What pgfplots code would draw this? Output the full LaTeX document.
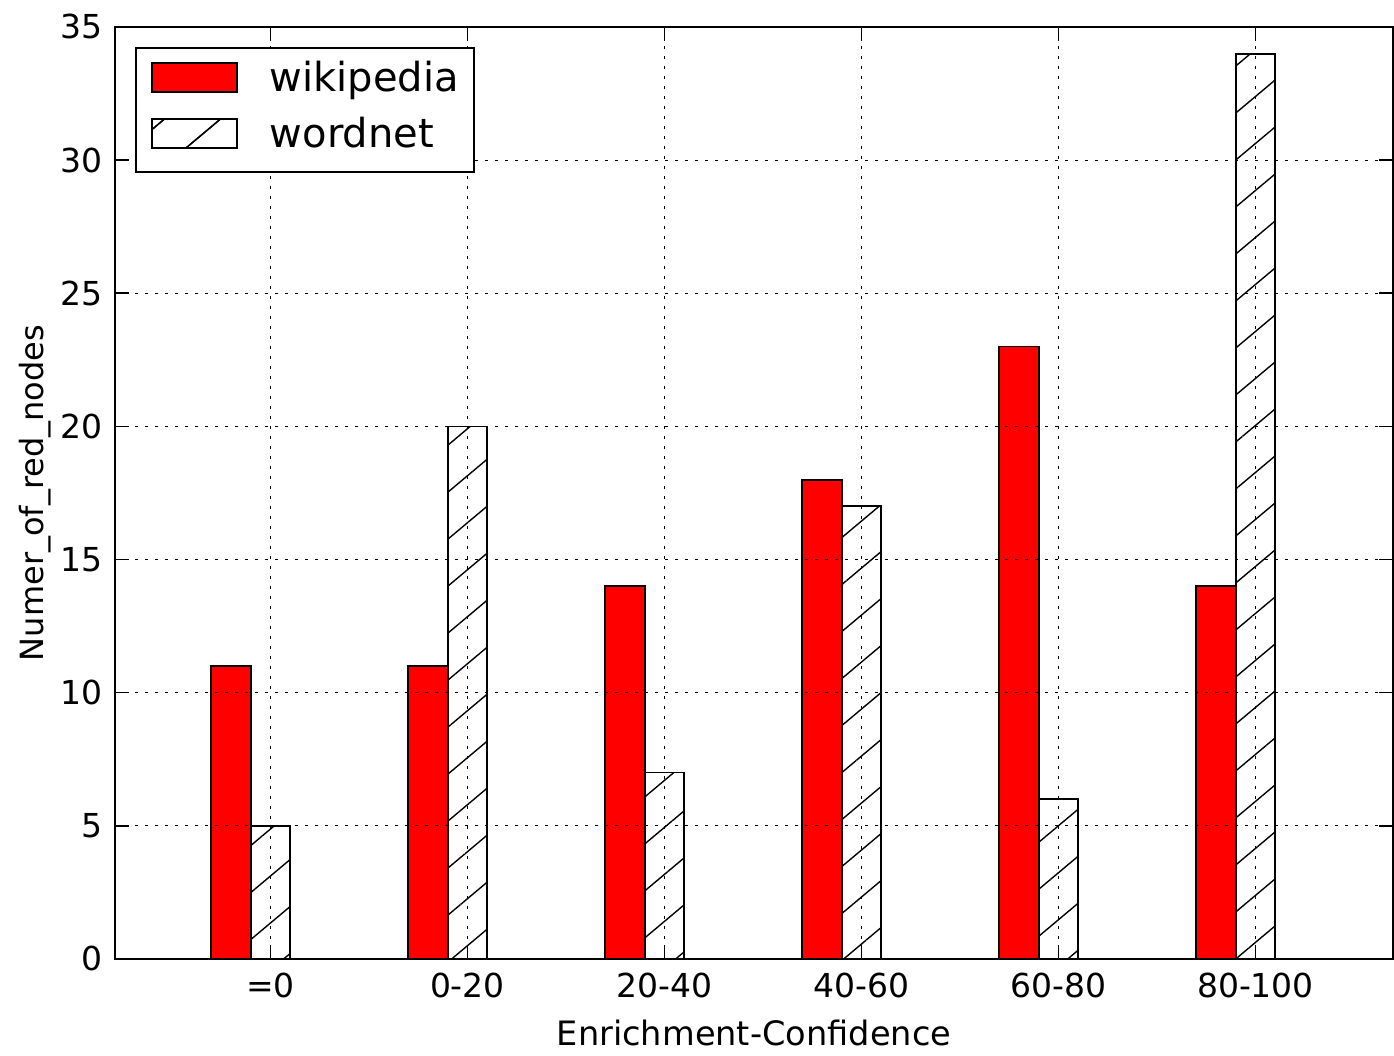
\documentclass[border=0pt]{standalone}
\usepackage{pgfplots}
\pgfplotsset{compat=1.18}
\usepackage{fontspec}
\setmainfont{DejaVu Sans}
\usetikzlibrary{patterns.meta,calc}
\begin{document}
\begin{tikzpicture}
\begin{axis}[
  scale only axis,
  width=639pt, height=466pt,
  xmin=-0.789, xmax=5.698,
  ymin=0, ymax=35,
  ytick={0,5,10,15,20,25,30,35},
  xtick={0,1,2,3,4,5},
  xticklabels={=0,0-20,20-40,40-60,60-80,80-100},
  ybar, bar width=0.2,
  axis on top,
  axis line style={black, line width=1pt},
  tick style={black, line width=0.8pt},
  tick align=inside,
  major tick length=7pt,
  xtick pos=both, ytick pos=both,
  grid=major,
  major grid style={black, line width=0.6pt, dash pattern=on 1.5pt off 3.5pt},
  /pgf/number format/assume math mode=true,
  tick label style={font=\fontsize{16.5}{20}\selectfont},
  yticklabel style={anchor=east, inner sep=0pt, xshift=-6pt},
  xticklabel style={anchor=north, inner sep=0pt, yshift=-7pt},
  every axis x label/.style={at={(axis description cs:0.5,-0.0933)}, anchor=base, inner sep=0pt, font=\fontsize{16.8}{20}\selectfont},
  every axis y label/.style={at={(axis description cs:-0.0563,0.5)}, rotate=90, anchor=base, inner sep=0pt, font=\fontsize{16}{20}\selectfont},
  xlabel={Enrichment-Confidence},
  ylabel={Numer\_of\_red\_nodes},
  legend style={at={(axis description cs:0.01565,0.97854)}, anchor=north west,
    draw=black, line width=1pt, fill=white,
    inner xsep=7.5pt, inner ysep=7pt,
    row sep=8pt, column sep=16pt,
    nodes={inner sep=0pt, text height=15pt, text depth=5pt, anchor=base west},
    font=\fontsize{20}{24}\selectfont},
  legend cell align=left,
]
\addplot[fill=red, draw=black, line width=0.9pt, bar shift=-0.2,
  legend image code/.code={\draw[fill=red, draw=black, line width=0.9pt] (0pt,0pt) rectangle (42.5pt,14.5pt);}]
  coordinates {(0,11) (1,11) (2,14) (3,18) (4,23) (5,14)};
\addlegendentry{wikipedia}
\addplot[fill=white, draw=black, line width=0.9pt, bar shift=0,
  postaction={pattern={Lines[angle=40, distance=18pt, line width=0.7pt]}, pattern color=black},
  legend image code/.code={\draw[fill=white, draw=black, line width=0.9pt, postaction={pattern={Lines[angle=40, distance=18pt, line width=0.7pt]}, pattern color=black}] (0pt,0pt) rectangle (42.5pt,14.5pt);}]
  coordinates {(0,5) (1,20) (2,7) (3,17) (4,6) (5,34)};
\addlegendentry{wordnet}
\end{axis}
\pgfresetboundingbox
\path[use as bounding box] ($(current axis.south west)+(-57.5pt,-48.5pt)$) rectangle ($(current axis.north east)+(0.5pt,13.5pt)$);
\end{tikzpicture}
\end{document}
